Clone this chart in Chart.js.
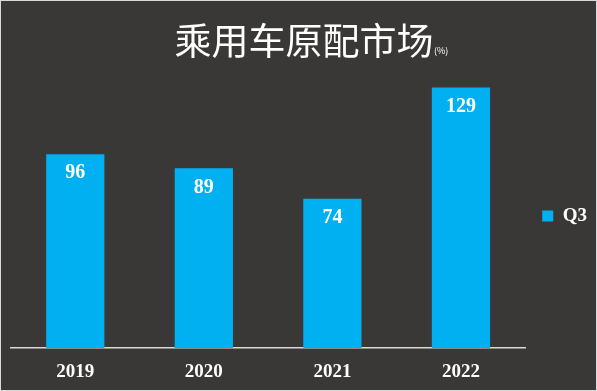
<!DOCTYPE html>
<html>
<head>
<meta charset="utf-8">
<script src="https://cdn.jsdelivr.net/npm/chart.js@4"></script>
<style>
  html, body { margin: 0; padding: 0; background: #3a3836; }
  #wrap { width: 597px; height: 391px; }
</style>
</head>
<body>
<div id="wrap"><canvas id="myChart" width="597" height="391"></canvas></div>
<script>
const years = ['2019', '2020', '2021', '2022'];
const q3 = [96, 89, 74, 129];
const seriesName = 'Q3';
const titleText = '乘用车原配市场';
const unitText = '(%)';

const serif = "'Liberation Serif', 'Times New Roman', serif";

// background, border and the little (%) next to the title
const decor = {
    id: 'decor',
    beforeDraw(chart) {
        const ctx = chart.ctx;
        ctx.save();
        ctx.fillStyle = '#3a3836';
        ctx.fillRect(0, 0, chart.width, chart.height);
        ctx.strokeStyle = '#d9d9d9';
        ctx.lineWidth = 1;
        ctx.strokeRect(0.5, 0.5, chart.width - 1, chart.height - 1);
        ctx.restore();
    },
    afterDraw(chart) {
        const ctx = chart.ctx;
        ctx.save();
        ctx.font = "37px 'Noto Sans CJK SC'";
        const w = ctx.measureText(titleText).width;
        const x = chart.width / 2 + w / 2 + 6;
        ctx.font = "9px 'Noto Sans CJK SC'";
        ctx.fillStyle = '#ffffff';
        ctx.textBaseline = 'middle';
        ctx.fillText(unitText, x, 51);
        ctx.restore();
    }
};

const barLabels = {
    id: 'barLabels',
    afterDatasetsDraw(chart) {
        const ctx = chart.ctx;
        const meta = chart.getDatasetMeta(0);
        ctx.save();
        ctx.font = 'bold 20px ' + serif;
        ctx.fillStyle = '#ffffff';
        ctx.textAlign = 'center';
        ctx.textBaseline = 'middle';
        meta.data.forEach((bar, i) => {
            ctx.fillText(String(q3[i]), bar.x, bar.y + 19);
        });
        ctx.restore();
    }
};

const data = {
    labels: years,
    datasets: [{
        label: seriesName,
        data: q3,
        backgroundColor: '#00b0f0',
        borderWidth: 0,
        barPercentage: 0.453,
        categoryPercentage: 1.0
    }]
};

const config = {
    type: 'bar',
    data: data,
    options: {
        responsive: false,
        animation: false,
        layout: { padding: { left: 11, right: 0, bottom: 0, top: 0 } },
        plugins: {
            title: {
                display: true,
                text: titleText,
                color: '#ffffff',
                font: { family: "'Noto Sans CJK SC'", size: 37, weight: 'normal' },
                padding: { top: 19, bottom: 2 }
            },
            legend: {
                position: 'right',
                title: {
                    display: true,
                    text: ' ',
                    font: { size: 1 },
                    padding: { top: 20, bottom: 20 }
                },
                labels: {
                    color: '#ffffff',
                    boxWidth: 11,
                    boxHeight: 11,
                    padding: 17,
                    font: { family: serif, size: 19, weight: 'bold' }
                }
            },
            tooltip: { enabled: false }
        },
        scales: {
            x: {
                grid: { display: false, drawTicks: false },
                border: { display: true, color: '#d9d9d9', width: 1.5 },
                ticks: {
                    color: '#ffffff',
                    padding: 13,
                    font: { family: serif, size: 19, weight: 'bold' }
                },
                afterFit(scale) { scale.height = 43; }
            },
            y: {
                display: false,
                min: 0,
                max: 140
            }
        }
    },
    plugins: [decor, barLabels]
};

const myChart = new Chart(document.getElementById('myChart'), config);
</script>
</body>
</html>
